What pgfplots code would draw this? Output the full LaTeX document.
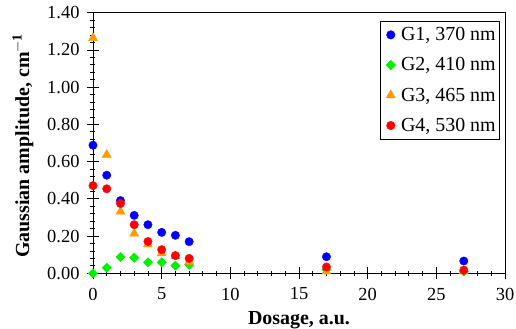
\documentclass[border=0pt]{standalone}
\usepackage{pgfplots}
\pgfplotsset{compat=1.18}
\usepackage{fontspec}
\setmainfont{Liberation Serif}
\definecolor{gblue}{RGB}{0,0,255}
\definecolor{ggreen}{RGB}{0,240,0}
\definecolor{gorange}{RGB}{255,153,0}
\definecolor{gred}{RGB}{255,0,0}
\begin{document}
\begin{tikzpicture}[x=1bp,y=1bp]
\begin{axis}[
  at={(0,0)}, anchor=south west,
  scale only axis,
  width=412bp, height=260.6bp,
  xmin=0, xmax=30, ymin=0, ymax=1.4,
  xtick={0,5,...,30},
  ytick={0,0.2,...,1.4},
  minor x tick num=4,
  minor y tick num=4,
  tick align=center,
  major tick length=12bp,
  minor tick length=5bp,
  xtick pos=left, ytick pos=left,
  axis line style={line width=1pt},
  every tick/.style={black, line width=0.8pt},
  /pgf/number format/assume math mode=true,
  yticklabel style={/pgf/number format/fixed,/pgf/number format/fixed zerofill,/pgf/number format/precision=2, xshift=-4bp},
  xticklabel style={/pgf/number format/fixed, yshift=-5bp},
  tick label style={font=\fontsize{18.5}{22}\selectfont},
  xlabel={\textbf{Dosage, a.u.}},
  ylabel={\textbf{Gaussian amplitude, cm$^{\mathbf{-1}}$}},
  every axis x label/.style={at={(axis description cs:0.5,-0.198)}, anchor=base, font=\fontsize{20}{24}\selectfont},
  every axis y label/.style={at={(axis description cs:-0.155,0.49)}, rotate=90, anchor=base, font=\fontsize{20}{24}\selectfont},
  legend style={at={(1,1)}, xshift=-5bp, yshift=-8.5bp, anchor=north east, draw=black, line width=0.6pt,
    font=\fontsize{20}{24}\selectfont, row sep=11.5bp, inner sep=2bp, inner ysep=4bp},
  legend cell align=left,
  legend image code/.code={\path (0bp,-4bp) (16bp,4bp); \draw[#1] plot coordinates {(8bp,0bp)};},
  only marks,
]
\addplot[mark=*, mark size=4.2bp, draw=gblue, fill=gblue] coordinates {
(0,0.688) (1,0.527) (2,0.391) (3,0.311) (4,0.261) (5,0.220) (6,0.204) (7,0.170) (17,0.089) (27,0.066)};
\addlegendentry{G1, 370 nm}
\addplot[mark=square*, mark size=3.3bp, mark options={rotate=45}, draw=ggreen, fill=ggreen] coordinates {
(0,0.0) (1,0.030) (2,0.0875) (3,0.084) (4,0.059) (5,0.059) (6,0.041) (7,0.045) (17,0.02) (27,0.01)};
\addlegendentry{G2, 410 nm}
\addplot[mark=triangle*, mark size=5.2bp, draw=gorange, fill=gorange] coordinates {
(0,1.264) (1,0.637) (2,0.332) (3,0.214) (4,0.155) (5,0.107) (6,0.093) (7,0.062) (17,0.01) (27,0.01)};
\addlegendentry{G3, 465 nm}
\addplot[mark=*, mark size=4.2bp, draw=gred, fill=gred] coordinates {
(0,0.471) (1,0.454) (2,0.375) (3,0.261) (4,0.171) (5,0.127) (6,0.095) (7,0.080) (17,0.034) (27,0.017)};
\addlegendentry{G4, 530 nm}
\end{axis}
\pgfresetboundingbox
\path (-93bp,-55.7bp) rectangle (423bp,273.3bp);
\end{tikzpicture}
\end{document}
